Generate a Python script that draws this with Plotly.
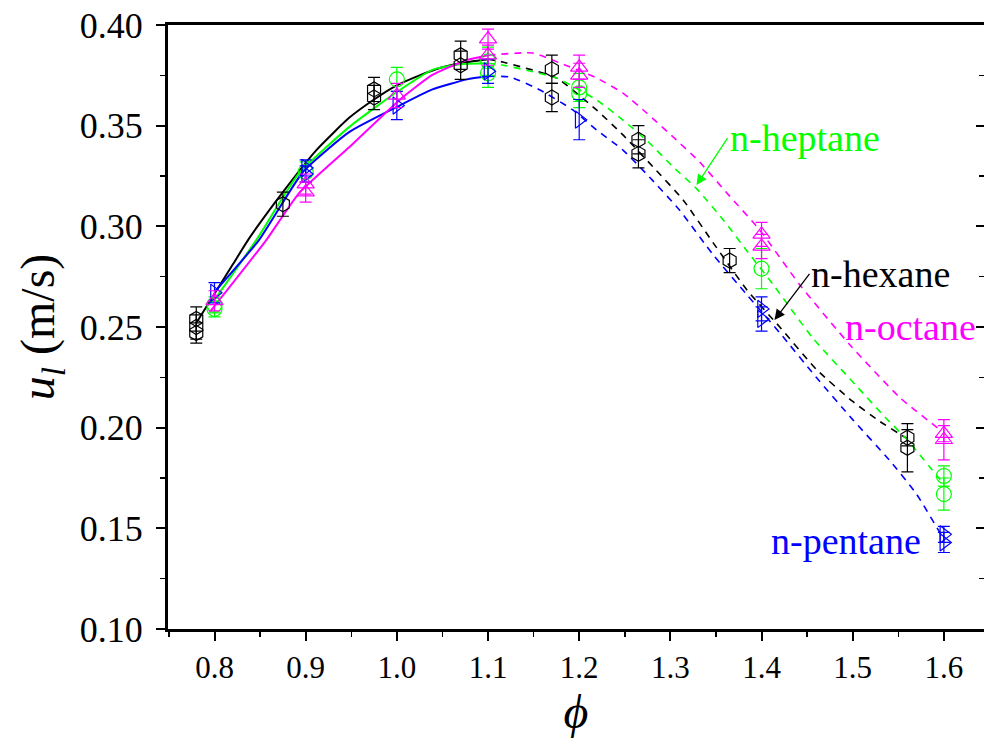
import plotly.graph_objects as go

# ---------------- data ----------------
x_ticks = [0.8, 0.9, 1.0, 1.1, 1.2, 1.3, 1.4, 1.5, 1.6]
x_ticktext = ["0.8", "0.9", "1.0", "1.1", "1.2", "1.3", "1.4", "1.5", "1.6"]
y_ticks = [0.10, 0.15, 0.20, 0.25, 0.30, 0.35, 0.40]
y_ticktext = ["0.10", "0.15", "0.20", "0.25", "0.30", "0.35", "0.40"]

# measured points (phi, u_l, error)
hex_phi = [0.78, 0.78, 0.78, 0.875, 0.975, 0.975, 1.07, 1.07, 1.17, 1.17, 1.265, 1.265, 1.365, 1.56, 1.56]
hex_u = [0.254, 0.250, 0.247, 0.311, 0.368, 0.364, 0.385, 0.380, 0.378, 0.364, 0.343, 0.336, 0.283, 0.195, 0.190]
hex_err = [0.006, 0.006, 0.005, 0.006, 0.006, 0.006, 0.007, 0.007, 0.007, 0.007, 0.007, 0.007, 0.006, 0.004, 0.012]

hep_phi = [0.8, 0.8, 0.9, 1.0, 1.1, 1.1, 1.2, 1.2, 1.4, 1.6, 1.6]
hep_u = [0.261, 0.259, 0.327, 0.373, 0.382, 0.376, 0.369, 0.366, 0.279, 0.176, 0.167]
hep_err = [0.004, 0.004, 0.005, 0.006, 0.007, 0.007, 0.007, 0.007, 0.010, 0.005, 0.008]

pen_phi = [0.8, 0.9, 0.9, 1.0, 1.1, 1.2, 1.4, 1.4, 1.6, 1.6]
pen_u = [0.267, 0.329, 0.326, 0.360, 0.377, 0.353, 0.259, 0.254, 0.147, 0.143]
pen_err = [0.005, 0.004, 0.004, 0.007, 0.006, 0.010, 0.006, 0.006, 0.004, 0.005]

oct_phi = [0.8, 0.9, 0.9, 1.0, 1.1, 1.1, 1.2, 1.2, 1.4, 1.4, 1.6, 1.6]
oct_u = [0.263, 0.321, 0.317, 0.365, 0.393, 0.385, 0.379, 0.375, 0.296, 0.290, 0.197, 0.194]
oct_err = [0.005, 0.005, 0.005, 0.006, 0.005, 0.005, 0.006, 0.006, 0.006, 0.006, 0.004, 0.010]

# fitted curves: solid (lean) part and dashed (rich) part
hex_fit_phi_solid = [0.780, 0.820, 0.838, 0.875, 0.912, 0.948, 0.975, 1.000, 1.025, 1.050, 1.069, 1.100]
hex_fit_u_solid = [0.252, 0.281, 0.294, 0.317, 0.338, 0.354, 0.363, 0.370, 0.375, 0.379, 0.381, 0.383]
hex_fit_phi_dash = [1.100, 1.116, 1.175, 1.219, 1.248, 1.281, 1.314, 1.347, 1.384, 1.420, 1.460, 1.500, 1.530, 1.560]
hex_fit_u_dash = [0.383, 0.3816, 0.3737, 0.3578, 0.3454, 0.3295, 0.3131, 0.2918, 0.2684, 0.2500, 0.2290, 0.2130, 0.2030, 0.1945]

hep_fit_phi_solid = [0.800, 0.846, 0.893, 0.948, 1.000, 1.039, 1.070, 1.100]
hep_fit_u_solid = [0.2635, 0.2933, 0.3265, 0.3494, 0.3667, 0.3777, 0.3805, 0.3810]
hep_fit_phi_dash = [1.100, 1.116, 1.175, 1.219, 1.248, 1.277, 1.303, 1.329, 1.358, 1.384, 1.413, 1.456, 1.505, 1.533, 1.560, 1.596]
hep_fit_u_dash = [0.3810, 0.3801, 0.3737, 0.3628, 0.3528, 0.3414, 0.3295, 0.3186, 0.3032, 0.2878, 0.2709, 0.2446, 0.2203, 0.2064, 0.1939, 0.1741]

pen_fit_phi_solid = [0.800, 0.849, 0.897, 0.948, 1.000, 1.039, 1.077, 1.100]
pen_fit_u_solid = [0.2674, 0.2933, 0.3270, 0.3469, 0.3593, 0.3680, 0.3730, 0.3745]
pen_fit_phi_dash = [1.100, 1.124, 1.157, 1.193, 1.219, 1.248, 1.277, 1.310, 1.347, 1.384, 1.420, 1.460, 1.500, 1.540, 1.570, 1.598]
pen_fit_u_dash = [0.3745, 0.3742, 0.3677, 0.3578, 0.3479, 0.3379, 0.3245, 0.3081, 0.2858, 0.2660, 0.2471, 0.2250, 0.2040, 0.1840, 0.1670, 0.1460]

oct_fit_phi_solid = [0.795, 0.857, 0.893, 0.948, 1.003, 1.039, 1.077, 1.100]
oct_fit_u_solid = [0.2575, 0.2933, 0.3166, 0.3394, 0.3628, 0.3752, 0.3826, 0.3850]
oct_fit_phi_dash = [1.100, 1.149, 1.179, 1.219, 1.248, 1.274, 1.303, 1.332, 1.365, 1.398, 1.442, 1.497, 1.552, 1.596]
oct_fit_u_dash = [0.3850, 0.3861, 0.3811, 0.3737, 0.3662, 0.3563, 0.3444, 0.3320, 0.3150, 0.2982, 0.2709, 0.2411, 0.2148, 0.1989]

BLACK = "#000000"
GREEN = "#00ff00"
BLUE = "#0000ff"
MAGENTA = "#ff00ff"
FONT = "Times New Roman, Liberation Serif, serif"

fig = go.Figure()

series = [
    (hex_fit_phi_solid, hex_fit_u_solid, hex_fit_phi_dash, hex_fit_u_dash, hex_phi, hex_u, hex_err, BLACK, "hexagon-open"),
    (hep_fit_phi_solid, hep_fit_u_solid, hep_fit_phi_dash, hep_fit_u_dash, hep_phi, hep_u, hep_err, GREEN, "circle-open"),
    (pen_fit_phi_solid, pen_fit_u_solid, pen_fit_phi_dash, pen_fit_u_dash, pen_phi, pen_u, pen_err, BLUE, "triangle-right-open"),
    (oct_fit_phi_solid, oct_fit_u_solid, oct_fit_phi_dash, oct_fit_u_dash, oct_phi, oct_u, oct_err, MAGENTA, "triangle-up-open"),
]

for fps, fus, fpd, fud, px, pu, pe, col, sym in series:
    fig.add_trace(go.Scatter(x=fps, y=fus, mode="lines",
                             line=dict(color=col, width=2, shape="spline", smoothing=0.5),
                             showlegend=False, hoverinfo="skip"))
    fig.add_trace(go.Scatter(x=fpd, y=fud, mode="lines",
                             line=dict(color=col, width=1.6, dash="7px,6px", shape="spline", smoothing=0.5),
                             showlegend=False, hoverinfo="skip"))
for fps, fus, fpd, fud, px, pu, pe, col, sym in series:
    fig.add_trace(go.Scatter(x=px, y=pu, mode="markers",
                             marker=dict(symbol=sym, size=15, color=col, line=dict(width=1.2, color=col)),
                             error_y=dict(type="data", array=pe, color=col, thickness=1.2, width=6),
                             showlegend=False, hoverinfo="skip"))

# empty trace to register the right-hand tick axis
fig.add_trace(go.Scatter(x=[], y=[], yaxis="y2", showlegend=False, hoverinfo="skip"))

fig.update_layout(
    width=984, height=747,
    margin=dict(l=168, r=0, t=25, b=118, autoexpand=False),
    plot_bgcolor="white", paper_bgcolor="white",
    font=dict(family=FONT, color="black"),
    showlegend=False,
    hovermode=False,
    xaxis=dict(
        range=[0.749, 1.644], automargin=False,
        tickmode="array", tickvals=x_ticks, ticktext=x_ticktext,
        ticks="outside", ticklen=9, tickwidth=2, tickcolor="black",
        minor=dict(ticks="outside", ticklen=5, tickwidth=1.5, tickcolor="black", dtick=0.05, tick0=0.75),
        showline=True, linewidth=3, linecolor="black", mirror=True,
        showgrid=False, zeroline=False,
        tickfont=dict(family=FONT, size=31, color="black"),
        title=dict(text="<i>ϕ</i>", font=dict(family=FONT, size=48, color="black"), standoff=8),
    ),
    yaxis=dict(
        range=[0.1, 0.4], automargin=False,
        tickmode="array", tickvals=y_ticks, ticktext=y_ticktext,
        ticks="outside", ticklen=9, tickwidth=2, tickcolor="black",
        minor=dict(ticks="outside", ticklen=5, tickwidth=1.5, tickcolor="black", dtick=0.025, tick0=0.1),
        showline=True, linewidth=3, linecolor="black", mirror=False,
        showgrid=False, zeroline=False,
        ticklabelstandoff=6,
        tickfont=dict(family=FONT, size=36, color="black"),
        title=dict(text="<i>u</i><sub><i>l</i></sub> (m/s)", font=dict(family=FONT, size=48, color="black"), standoff=10),
    ),
    yaxis2=dict(
        overlaying="y", side="right", anchor="x", automargin=False,
        range=[0.1, 0.4],
        tickmode="array", tickvals=y_ticks, showticklabels=False,
        ticks="inside", ticklen=8, tickwidth=2, tickcolor="black",
        minor=dict(ticks="inside", ticklen=5, tickwidth=1.5, tickcolor="black", dtick=0.025, tick0=0.1),
        showline=False, showgrid=False, zeroline=False,
    ),
)

label_font = 38
fig.add_annotation(x=1.3287, y=0.3205, ax=31, ay=-47, text="n-heptane", showarrow=True,
                   xanchor="left", yanchor="middle",
                   arrowhead=2, arrowsize=1.6, arrowwidth=1.3, arrowcolor=GREEN,
                   font=dict(family=FONT, size=label_font, color=GREEN))
fig.add_annotation(x=1.4142, y=0.2535, ax=35, ay=-46, text="n-hexane", showarrow=True,
                   xanchor="left", yanchor="middle",
                   arrowhead=2, arrowsize=1.6, arrowwidth=1.3, arrowcolor=BLACK,
                   font=dict(family=FONT, size=label_font, color=BLACK))
fig.add_annotation(x=1.5629, y=0.2500, text="n-octane", showarrow=False,
                   font=dict(family=FONT, size=label_font, color=MAGENTA))
fig.add_annotation(x=1.4921, y=0.1437, text="n-pentane", showarrow=False,
                   font=dict(family=FONT, size=label_font, color=BLUE))

# remove the browser's default page margin so the figure sits at the window origin
fig.write_html("out.html", config={"displayModeBar": False, "staticPlot": True},
               post_script="document.body.style.margin='0px';")
